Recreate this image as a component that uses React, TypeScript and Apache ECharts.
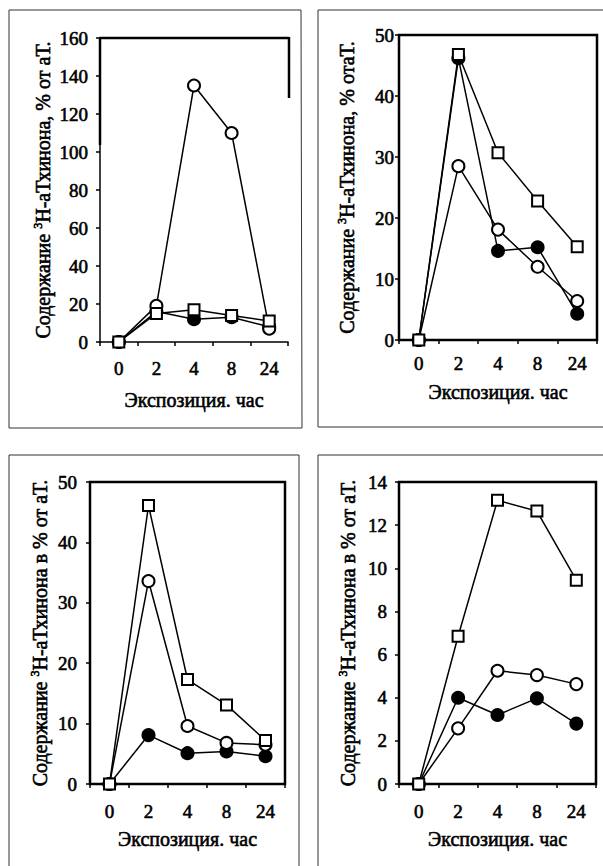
import React, { useEffect, useRef } from "react";
import * as echarts from "echarts";

const CATEGORIES = ["0", "2", "4", "8", "24"];

const P1_FILLED = [0, 16, 12, 13, 8];
const P1_OPEN = [0, 19, 135, 110, 7];
const P1_SQUARE = [0, 15, 17, 14, 11];

const P2_FILLED = [0, 46.2, 14.6, 15.2, 4.3];
const P2_OPEN = [0, 28.5, 18.1, 12.0, 6.4];
const P2_SQUARE = [0, 46.8, 30.7, 22.8, 15.3];

const P3_FILLED = [0, 8.1, 5.1, 5.4, 4.6];
const P3_OPEN = [0, 33.6, 9.6, 6.8, 6.5];
const P3_SQUARE = [0, 46.1, 17.3, 13.1, 7.2];

const P4_FILLED = [0, 4.0, 3.2, 3.97, 2.8];
const P4_OPEN = [0, 2.58, 5.25, 5.05, 4.63];
const P4_SQUARE = [0, 6.85, 13.15, 12.65, 9.45];

const Y_MAX = [160, 50, 50, 14];
const Y_STEP = [20, 10, 10, 2];

const Y_NAMES = [
  "Содержание {s|3}Н-аТхинона, % от аТ.",
  "Содержание {s|3}Н-аТхинона, % отаТ.",
  "Содержание {s|3}Н-аТхинона в % от аТ.",
  "Содержание {s|3}Н-аТхинона в % от аТ.",
];
const X_NAME = "Экспозиция. час";

const FONT = "Liberation Serif, Times New Roman, serif";

const GRIDS = [
  { left: 100, top: 38, width: 188, height: 304, show: false },
  { left: 399, top: 35, width: 198, height: 305, show: true },
  { left: 90, top: 482, width: 195, height: 302, show: true },
  { left: 399, top: 482, width: 197, height: 302, show: true },
];
const Y_LABEL_MARGIN = [12, 5, 13, 12];
const Y_NAME_GAP = [46, 41, 39, 40];
const X_LABEL_MARGIN = [17, 14, 18, 18];
const X_NAME_GAP = [48, 42, 45, 45];

function makeSeries(idx: number, data: number[], kind: string) {
  const square = kind === "square";
  return {
    type: "line",
    xAxisIndex: idx,
    yAxisIndex: idx,
    data,
    symbol: square ? "rect" : "circle",
    symbolSize: square ? 11 : 12,
    showAllSymbol: true,
    lineStyle: { color: "#000", width: 1.5 },
    itemStyle: {
      color: kind === "filled" ? "#000" : "#fff",
      borderColor: "#000",
      borderWidth: 2,
    },
    z: kind === "filled" ? 2 : kind === "open" ? 3 : 4,
  };
}

export default function App() {
  const ref = useRef<HTMLDivElement>(null);
  useEffect(() => {
    if (!ref.current) return;
    const chart = echarts.init(ref.current, null, { renderer: "svg" });
    const panels = [
      [P1_FILLED, P1_OPEN, P1_SQUARE],
      [P2_FILLED, P2_OPEN, P2_SQUARE],
      [P3_FILLED, P3_OPEN, P3_SQUARE],
      [P4_FILLED, P4_OPEN, P4_SQUARE],
    ];
    const series: any[] = [];
    panels.forEach((p, i) => {
      series.push(makeSeries(i, p[0], "filled"));
      series.push(makeSeries(i, p[1], "open"));
      series.push(makeSeries(i, p[2], "square"));
    });
    const frame = { stroke: "#333", lineWidth: 1 };
    const thick = { stroke: "#000", lineWidth: 2.5 };
    const heavy = { textBorderColor: "#000", textBorderWidth: 0.6 };
    const lbl = { fontFamily: FONT, fontSize: 19, color: "#000", ...heavy };
    const nm = { fontFamily: FONT, fontSize: 20, color: "#000", ...heavy };
    chart.setOption({
      animation: false,
      backgroundColor: "#fff",
      textStyle: { fontFamily: FONT },
      grid: GRIDS.map((g) => ({
        left: g.left,
        top: g.top,
        width: g.width,
        height: g.height,
        show: g.show,
        borderColor: "#000",
        borderWidth: 2.5,
        containLabel: false,
      })),
      xAxis: GRIDS.map((g, i) => ({
        type: "category",
        gridIndex: i,
        data: CATEGORIES,
        boundaryGap: true,
        name: X_NAME,
        nameLocation: "middle",
        nameGap: X_NAME_GAP[i],
        nameTextStyle: { ...nm },
        axisLine: { lineStyle: { color: "#000", width: 1.5 } },
        axisTick: { show: true, inside: false, length: 4, lineStyle: { color: "#000", width: 1.5 } },
        axisLabel: { ...lbl, margin: X_LABEL_MARGIN[i] },
        splitLine: { show: false },
      })),
      yAxis: GRIDS.map((g, i) => ({
        type: "value",
        gridIndex: i,
        min: 0,
        max: Y_MAX[i],
        interval: Y_STEP[i],
        name: Y_NAMES[i],
        nameLocation: "middle",
        nameRotate: 90,
        nameGap: Y_NAME_GAP[i],
        nameTextStyle: {
          ...nm,
          lineHeight: 22,
          rich: {
            s: { fontFamily: FONT, fontSize: 12, verticalAlign: "top", lineHeight: 22, color: "#000", ...heavy },
          },
        },
        axisLine: { show: true, lineStyle: { color: "#000", width: 1.5 } },
        axisTick: { show: true, inside: false, length: 4, lineStyle: { color: "#000", width: 1.5 } },
        axisLabel: { ...lbl, margin: Y_LABEL_MARGIN[i] },
        splitLine: { show: false },
      })),
      series,
      graphic: [
        { type: "line", shape: { x1: 100, y1: 38, x2: 289, y2: 38 }, style: thick, silent: true },
        { type: "line", shape: { x1: 289, y1: 37, x2: 289, y2: 98 }, style: thick, silent: true },
        { type: "line", shape: { x1: 100, y1: 37, x2: 100, y2: 145 }, style: thick, silent: true },
        { type: "polyline", shape: { points: [[9, 10], [301, 10], [302, 428], [9, 428], [9, 10]] }, style: { ...frame, fill: null }, silent: true },
        { type: "polyline", shape: { points: [[603, 10], [318, 10], [318, 427], [603, 427]] }, style: { ...frame, fill: null }, silent: true },
        { type: "polyline", shape: { points: [[9, 866], [9, 455], [299, 455], [299, 866]] }, style: { ...frame, fill: null }, silent: true },
        { type: "polyline", shape: { points: [[318, 866], [318, 455], [603, 455]] }, style: { ...frame, fill: null }, silent: true },
      ],
    });
    return () => chart.dispose();
  }, []);
  return (
    <div
      ref={ref}
      style={{ position: "fixed", left: 0, top: 0, width: 603, height: 866, background: "#fff" }}
    />
  );
}
